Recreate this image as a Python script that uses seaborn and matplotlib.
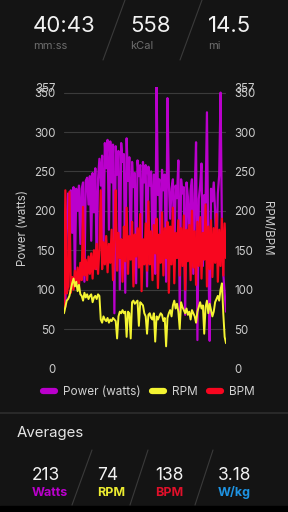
import numpy as np
import pandas as pd
import matplotlib
matplotlib.use("Agg")
import matplotlib.pyplot as plt
import seaborn as sns
from matplotlib.lines import Line2D
from matplotlib.patches import Rectangle

# ---------------- data ----------------
power = [150, 78, 188, 222, 140, 226, 172, 230, 118, 228,
         200, 232, 158, 228, 236, 110, 238, 242, 208, 244,
         162, 248, 198, 254, 126, 240, 266, 232, 270, 148,
         286, 254, 290, 176, 288, 236, 284, 70, 282, 246,
         276, 100, 286, 262, 272, 96, 292, 238, 268, 140,
         262, 230, 248, 108, 264, 244, 258, 150, 262, 236,
         258, 104, 256, 232, 250, 160, 246, 120, 357, 220,
         240, 150, 252, 226, 246, 110, 343, 236, 190, 228,
         240, 142, 232, 216, 264, 72, 240, 222, 230, 68,
         236, 218, 150, 226, 240, 120, 222, 287, 36, 215,
         232, 260, 130, 220, 210, 325, 150, 35, 228, 212,
         236, 200, 140, 222, 245, 350, 180, 120, 96, 72]
rpm = [70, 78, 86, 88, 92, 100, 108, 114, 104, 110,
       98, 106, 94, 92, 86, 96, 90, 94, 88, 92,
       94, 84, 90, 92, 88, 94, 92, 62, 58, 66,
       62, 60, 64, 58, 62, 60, 64, 62, 60, 38,
       66, 72, 70, 74, 70, 72, 40, 72, 70, 38,
       84, 86, 82, 84, 86, 54, 84, 82, 80, 70,
       66, 44, 68, 70, 64, 62, 70, 34, 66, 62,
       66, 70, 68, 60, 64, 28, 64, 70, 74, 66,
       80, 86, 76, 82, 72, 50, 84, 78, 74, 70,
       76, 68, 72, 62, 74, 70, 66, 58, 72, 78,
       84, 76, 80, 44, 78, 86, 70, 82, 74, 66,
       72, 84, 88, 92, 86, 100, 108, 70, 40, 32]
bpm = [72, 226, 95, 104, 224, 96, 116, 100, 124, 108,
       128, 104, 134, 112, 205, 118, 138, 112, 142, 120,
       146, 114, 150, 126, 158, 120, 152, 226, 126, 160,
       132, 168, 122, 158, 134, 176, 112, 166, 226, 124,
       172, 140, 164, 110, 180, 136, 204, 120, 168, 138,
       186, 104, 170, 142, 178, 128, 196, 98, 164, 132,
       184, 124, 212, 132, 174, 112, 182, 146, 190, 102,
       170, 134, 198, 118, 178, 140, 186, 96, 180, 132,
       204, 108, 172, 140, 188, 118, 178, 130, 194, 100,
       176, 136, 182, 112, 200, 128, 174, 106, 186, 130,
       192, 114, 172, 138, 208, 104, 180, 126, 188, 116,
       178, 134, 196, 110, 176, 130, 190, 118, 184, 140]
y_ticks = [0, 50, 100, 150, 200, 250, 300, 350, 357]
grid_values = [50, 100, 150, 200, 250, 300, 350]
legend_labels = ["Power (watts)", "RPM", "BPM"]
header_values = ["40:43", "558", "14.5"]
header_units = ["mm:ss", "kCal", "mi"]
avg_values = ["213", "74", "138", "3.18"]
avg_units = ["Watts", "RPM", "BPM", "W/kg"]

# ---------------- style ----------------
W, H = 288, 512
BG = "#141414"
PURPLE = "#BA00CC"
YELLOW = "#F4F432"
RED = "#F8061F"
BLUE = "#1E93E2"
TICK = "#cccccc"

sns.set_theme(style="dark")
plt.rcParams['font.family'] = ['Inter', 'DejaVu Sans']

fig = plt.figure(figsize=(2.88, 5.12), dpi=100, facecolor=BG)


def P(x, y):
    return (x / W, 1 - y / H)


# ---------------- header ----------------
hx = [33, 130, 208]
for x, v, u in zip(hx, header_values, header_units):
    fig.text(*P(x, 32), v, fontsize=16, color="#f2f2f2", ha="left", va="baseline")
    fig.text(*P(x, 49), u, fontsize=8, color="#6e6e6e", ha="left", va="baseline")
for (x0, y0, x1, y1) in [(125, 0, 103, 60), (202, 0, 180, 60)]:
    fig.add_artist(Line2D([x0 / W, x1 / W], [1 - y0 / H, 1 - y1 / H], color="#3a3a3a",
                          lw=0.8, transform=fig.transFigure))

# ---------------- chart ----------------
ax = fig.add_axes([64 / W, 1 - 368.4 / H, (226 - 64) / W, (368.4 - 87.1) / H])
ax.set_facecolor(BG)
df = pd.DataFrame({"t": np.arange(len(power)), "power": power, "rpm": rpm, "bpm": bpm})

for g in grid_values:
    ax.axhline(g, color="#3b3b3b", lw=0.8, zorder=0)
sns.lineplot(data=df, x="t", y="power", ax=ax, color=PURPLE, lw=1.6)
ax2 = ax.twinx()
sns.lineplot(data=df, x="t", y="bpm", ax=ax2, color=RED, lw=1.6)
sns.lineplot(data=df, x="t", y="rpm", ax=ax2, color=YELLOW, lw=1.4)

for a in (ax, ax2):
    a.set_xlim(0, len(power) - 1)
    a.set_ylim(0, 357)
    a.set_yticks(y_ticks)
    a.set_yticklabels([str(t) for t in y_ticks])
    a.set_xticks([])
    a.set_xlabel("")
    a.set_ylabel("")
    a.grid(False)
    a.tick_params(axis="y", length=0, pad=6, labelsize=8.3, labelcolor=TICK)
    for s in a.spines.values():
        s.set_visible(False)
ax2.patch.set_visible(False)

fig.text(*P(23, 228), "Power (watts)", rotation=90, ha="center", va="center",
         fontsize=8.3, color=TICK)
fig.text(*P(267, 228), "RPM/BPM", rotation=270, ha="center", va="center",
         fontsize=8.3, color=TICK)

handles = [Line2D([0], [0], color=c, lw=4.5, solid_capstyle="round") for c in (PURPLE, YELLOW, RED)]
fig.legend(handles, legend_labels, loc="center", bbox_to_anchor=P(149, 392), ncol=3,
           frameon=False, handlelength=1.0, handletextpad=0.75, columnspacing=0.9,
           fontsize=8.5, labelcolor="#d2d2d2")

# ---------------- averages ----------------
fig.add_artist(Line2D([0, 1], [1 - 413 / H] * 2, color="#2c2c2c", lw=1.3, transform=fig.transFigure))
fig.text(*P(17, 437), "Averages", fontsize=10.8, color="#e6e6e6", ha="left", va="baseline")

ax_x = [32, 97, 155, 218]
unit_colors = [PURPLE, "#ECEC30", "#E0102A", BLUE]
for x, v, u, c in zip(ax_x, avg_values, avg_units, unit_colors):
    fig.text(*P(x, 480), v, fontsize=12.5, color="#f2f2f2", ha="left", va="baseline")
    fig.text(*P(x, 496), u, fontsize=9, color=c, ha="left", va="baseline", fontweight="bold")
for (x0, y0, x1, y1) in [(92, 450, 72, 505), (148, 450, 130, 505), (213, 450, 195, 505)]:
    fig.add_artist(Line2D([x0 / W, x1 / W], [1 - y0 / H, 1 - y1 / H], color="#3a3a3a",
                          lw=0.8, transform=fig.transFigure))
fig.add_artist(Rectangle((0, 0), 1, 6 / H, color="black", transform=fig.transFigure))

fig.savefig("out.png", dpi=100, facecolor=BG)
